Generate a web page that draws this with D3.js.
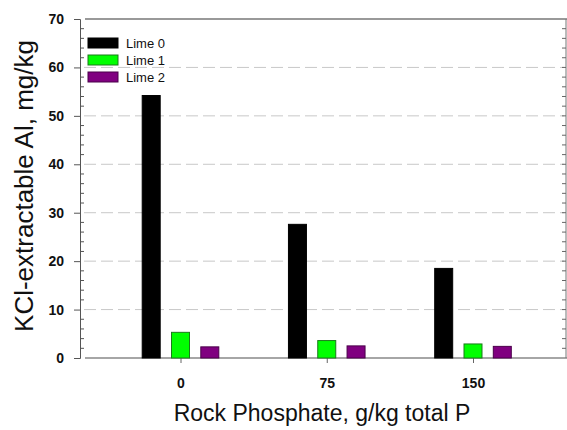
<!DOCTYPE html>
<html>
<head>
<meta charset="utf-8">
<script src="https://cdn.jsdelivr.net/npm/d3@7"></script>
<style>
  html, body { margin: 0; padding: 0; background: #fff; }
  svg { display: block; font-family: Arial, "Liberation Sans", sans-serif; }
</style>
</head>
<body>
<svg id="chart" width="567" height="430"></svg>
<script>
// Rock phosphate rates (g/kg total P) and lime treatments
const categories = ["0", "75", "150"];
const seriesNames = ["Lime 0", "Lime 1", "Lime 2"];
const lime0 = [54.2, 27.6, 18.5];
const lime1 = [5.3, 3.6, 2.9];
const lime2 = [2.3, 2.5, 2.4];
const yTicks = [0, 10, 20, 30, 40, 50, 60, 70];

const fills = ["#000000", "#00ff00", "#800080"];
const strokes = ["#000000", "#1a7a1a", "#4a004a"];

const svg = d3.select("#chart");
const plotL = 80, plotR = 566, plotT = 19, plotB = 358;

const y = d3.scaleLinear().domain([0, 70]).range([plotB, plotT]);
const x = d3.scalePoint().domain(categories).range([180.5, 473]);
const seriesOffset = d3.scaleBand().domain(seriesNames).range([-38.3, 38.3]).paddingInner(0.386);

// dashed horizontal gridlines
svg.append("g").selectAll("line")
  .data(yTicks.filter(t => t > 0 && t < 70))
  .join("line")
  .attr("x1", plotL + 4).attr("x2", plotR - 2)
  .attr("y1", d => y(d)).attr("y2", d => y(d))
  .attr("stroke", "#c8c8c8").attr("stroke-width", 1)
  .attr("stroke-dasharray", "12,5");

// frame: top and bottom lines
svg.append("line").attr("x1", plotL + 5).attr("x2", plotR + 1)
  .attr("y1", plotT).attr("y2", plotT).attr("stroke", "#777").attr("stroke-width", 1.3);
svg.append("line").attr("x1", plotL + 5).attr("x2", plotR + 1)
  .attr("y1", plotB).attr("y2", plotB).attr("stroke", "#888").attr("stroke-width", 1.3);

// left axis with major labels outside and minor ticks inside
const yAxis = d3.axisLeft(y).tickValues(yTicks).tickSize(6).tickPadding(10).tickFormat(d3.format("d"));
const gy = svg.append("g").attr("transform", `translate(${plotL},0)`).call(yAxis);
gy.select(".domain").attr("stroke", "#555");
gy.selectAll(".tick line").attr("stroke", "#555");
gy.selectAll("text").attr("font-size", 14).attr("font-weight", "bold").attr("fill", "#111");

const minor = d3.range(0, 70.01, 2).filter(v => v % 10 !== 0);
svg.append("g").selectAll("line").data(minor).join("line")
  .attr("x1", plotL).attr("x2", plotL + 4)
  .attr("y1", d => y(d)).attr("y2", d => y(d))
  .attr("stroke", "#555");

// right axis with inward ticks
svg.append("line").attr("x1", plotR).attr("x2", plotR)
  .attr("y1", plotT).attr("y2", plotB).attr("stroke", "#777");
svg.append("g").selectAll("line").data(minor.concat(yTicks.slice(1, -1))).join("line")
  .attr("x1", plotR - 4).attr("x2", plotR)
  .attr("y1", d => y(d)).attr("y2", d => y(d))
  .attr("stroke", "#666");

// bottom axis
const xAxis = d3.axisBottom(x).tickSize(5).tickPadding(15);
const gx = svg.append("g").attr("transform", `translate(0,${plotB})`).call(xAxis);
gx.select(".domain").remove();
gx.selectAll(".tick line").attr("stroke", "#666");
gx.selectAll("text").attr("font-size", 14).attr("font-weight", "bold").attr("fill", "#111");

// bars
const series = [lime0, lime1, lime2];
series.forEach((vals, si) => {
  svg.append("g").selectAll("rect")
    .data(vals.map((v, i) => ({ cat: categories[i], v })))
    .join("rect")
    .attr("x", d => x(d.cat) + seriesOffset(seriesNames[si]))
    .attr("width", seriesOffset.bandwidth())
    .attr("y", d => y(d.v))
    .attr("height", d => y(0) - y(d.v))
    .attr("fill", fills[si])
    .attr("stroke", strokes[si])
    .attr("stroke-width", 1);
});

// legend
const legend = svg.append("g").attr("transform", "translate(88,38)");
seriesNames.forEach((name, i) => {
  const g = legend.append("g").attr("transform", `translate(0,${i * 17})`);
  g.append("rect").attr("width", 30).attr("height", 10)
    .attr("fill", fills[i]).attr("stroke", strokes[i]);
  g.append("text").attr("x", 38).attr("y", 10)
    .attr("font-size", 13).attr("fill", "#111").text(name);
});

// axis titles
svg.append("text").attr("x", 322).attr("y", 421)
  .attr("text-anchor", "middle").attr("font-size", 23).attr("fill", "#111")
  .text("Rock Phosphate, g/kg total P");
svg.append("text")
  .attr("transform", "translate(33,186) rotate(-90)")
  .attr("text-anchor", "middle").attr("font-size", 26).attr("fill", "#111")
  .text("KCl-extractable Al, mg/kg");
</script>
</body>
</html>
